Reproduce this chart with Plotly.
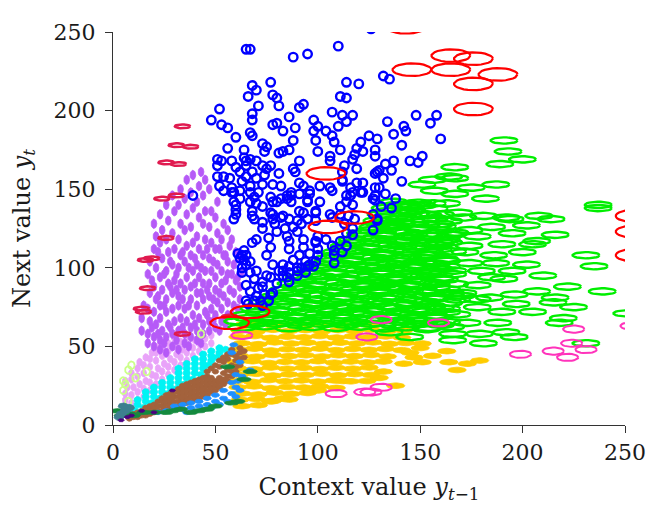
import numpy as np
import plotly.graph_objects as go

# cluster centres: (context value y_{t-1}, next value y_t)

blue_pts = [
    (65, 239), (67, 239), (88, 234), (95, 236), (110, 241), (126, 252),
    (68, 216), (70, 213), (66, 209), (77, 218), (78, 210), (80, 208), (71, 203), (81, 203), (91, 202),
    (93, 204), (114, 218), (120, 217), (111, 209), (114, 208),
    (52, 201), (48, 194), (68, 198), (68, 194), (86, 196), (107, 199), (112, 197), (117, 197), (114, 193), (98, 194),
    (53, 191), (56, 189), (78, 191), (80, 192), (83, 187), (89, 189), (98, 187), (100, 190), (104, 187), (110, 190),
    (107, 184), (60, 183), (67, 186), (68, 184), (88, 181), (99, 181), (108, 180), (125, 184), (121, 180), (129, 182),
    (56, 176), (64, 175), (73, 179), (75, 177), (74, 174), (81, 173), (83, 174), (86, 175), (100, 174), (111, 175),
    (119, 176), (122, 174), (128, 175), (118, 172), (117, 169), (113, 165), (106, 171), (106, 168),
    (51, 169), (53, 168), (51, 165), (58, 168), (64, 170), (65, 168), (67, 169), (70, 168), (60, 164), (65, 165),
    (73, 165), (77, 165), (91, 168), (88, 163), (89, 161), (62, 161), (68, 161), (75, 163), (81, 160), (112, 161),
    (119, 163), (129, 161), (51, 158), (54, 158), (57, 157), (65, 158), (70, 157), (74, 159),
    (52, 152), (58, 151), (63, 155), (67, 152), (73, 153), (78, 153), (82, 152), (91, 154), (93, 152), (101, 152),
    (106, 151), (112, 156), (116, 151), (119, 154), (128, 151), (121, 148), (128, 146),
    (39, 146), (54, 149), (59, 148), (67, 148), (71, 148), (77, 145), (85, 146), (87, 146), (96, 147), (101, 142),
    (107, 149), (111, 139), (114, 142), (116, 146), (60, 140), (67, 142), (70, 141), (73, 139), (80, 142), (87, 142),
    (93, 135), (83, 133), (78, 134), (68, 133), (106, 134), (99, 135), (60, 134),
    (77, 135), (68, 136), (69, 131), (73, 129), (73, 125), (78, 131), (79, 128), (82, 132), (86, 131), (90, 130),
    (92, 128), (84, 125), (88, 126), (80, 123), (85, 120), (90, 123), (95, 131), (99, 130), (99, 136), (91, 136),
    (95, 142), (93, 118), (99, 117), (100, 112), (100, 108), (99, 104), (98, 101), (95, 101), (92, 100), (90, 98),
    (93, 113), (91, 108), (88, 105), (86, 101), (86, 97), (83, 95), (86, 112), (86, 117), (83, 102), (81, 98),
    (77, 94), (78, 102), (75, 108), (77, 113), (76, 119), (70, 118), (68, 116), (64, 111), (65, 108), (64, 105),
    (67, 104), (63, 100), (63, 97), (67, 97), (70, 98), (69, 93), (65, 89), (67, 85), (71, 87), (73, 91),
    (80, 90), (70, 82), (74, 83), (78, 84), (69, 79), (66, 77), (72, 79), (76, 79), (73, 76), (86, 91),
    (90, 95), (94, 97), (96, 102), (104, 118), (107, 114), (108, 111), (108, 108), (111, 117), (114, 122),
    (117, 125), (113, 128), (107, 132), (111, 134), (115, 133), (118, 131), (117, 140), (114, 146), (117, 148),
    (122, 148), (127, 144), (122, 154), (112, 155), (96, 149), (95, 143), (91, 147), (87, 148), (85, 144),
    (82, 144), (78, 142), (62, 106), (61, 109), (59, 131), (60, 137), (62, 144), (58, 148), (59, 142), (62, 149),
    (69, 145), (112, 110), (108, 103), (114, 114), (117, 121), (65, 79), (65, 102), (63, 108), (73, 88), (75, 95),
    (77, 83), (85, 94), (83, 98), (90, 100), (94, 104), (96, 109), (99, 116), (100, 120),
    (132, 222), (135, 220), (148, 197), (158, 197), (155, 192), (134, 193), (142, 190), (143, 187), (137, 185),
    (141, 178), (160, 182), (128, 171), (133, 166), (137, 168), (136, 162), (145, 168), (149, 167), (151, 171),
    (130, 162), (128, 160), (132, 157), (141, 155), (130, 151), (133, 147), (138, 144), (128, 143), (131, 139),
    (136, 138), (127, 134), (129, 131), (127, 124), (129, 130),
]

green_pts = [
    # dense part
    (63, 62), (74, 62.8), (86, 61.6), (97, 62.4), (109, 61.8), (120, 62.6), (132, 61.4), (143, 62.2), (154, 61.8), (165, 62.5),
    (61, 66), (72, 65.4), (84, 66.6), (95, 65.8), (107, 66.4), (118, 65.6), (130, 66.8), (141, 65.8), (152, 66.2), (163, 65.6),
    (65, 70), (77, 70.6), (88, 69.4), (100, 70.4), (111, 69.8), (123, 70.6), (134, 69.6), (146, 70.2), (157, 69.6), (168, 70.4),
    (69, 74), (80, 73.4), (92, 74.6), (103, 73.8), (115, 74.4), (126, 73.6), (138, 74.4), (149, 73.8), (160, 74.2),
    (73, 78), (84, 78.6), (96, 77.4), (107, 78.2), (119, 77.8), (130, 78.6), (142, 77.6), (153, 78.4), (164, 77.8),
    (79, 82), (90, 81.4), (102, 82.6), (113, 81.6), (125, 82.4), (136, 81.8), (148, 82.6), (159, 81.6), (170, 82.2),
    (83, 86), (94, 86.6), (106, 85.4), (117, 86.2), (129, 85.8), (140, 86.6), (152, 85.6), (163, 86.4),
    (87, 90), (98, 89.4), (110, 90.6), (121, 89.8), (133, 90.4), (144, 89.6), (156, 90.4), (167, 89.8),
    (91, 94), (102, 94.6), (114, 93.4), (125, 94.2), (137, 93.8), (148, 94.6), (160, 93.6),
    (97, 98), (108, 97.4), (120, 98.6), (131, 97.8), (143, 98.4), (154, 97.6), (166, 98.2),
    (101, 102), (112, 102.6), (124, 101.4), (135, 102.2), (147, 101.8), (158, 102.6),
    (105, 106), (116, 105.4), (128, 106.6), (139, 105.8), (151, 106.4), (162, 105.6),
    (109, 110), (120, 110.6), (132, 109.4), (143, 110.2), (155, 109.8), (166, 110.4),
    (113, 114), (124, 113.4), (136, 114.6), (147, 113.8), (159, 114.4),
    (117, 118), (128, 118.6), (140, 117.4), (151, 118.2), (163, 117.8),
    (121, 122), (132, 121.4), (144, 122.6), (155, 121.8), (167, 122.4),
    (127, 126), (138, 126.6), (150, 125.4), (161, 126.2),
    (129, 130), (140, 129.4), (152, 130.6), (164, 129.8),
    (131, 134), (142, 134.6), (154, 133.4), (133, 138), (145, 138.6), (157, 137.6), (137, 142), (149, 141.4),
    # dense part, in-between rows
    (68, 64), (80, 64.4), (91, 63.6), (103, 64.2), (114, 63.8), (126, 64.4), (137, 63.6), (149, 64.2), (160, 63.8),
    (66, 68), (78, 67.6), (90, 68.4), (101, 67.8), (113, 68.2), (124, 67.6), (136, 68.4), (147, 67.8), (158, 68.2),
    (71, 72), (83, 72.4), (94, 71.6), (106, 72.2), (117, 71.8), (129, 72.4), (140, 71.6), (152, 72.2), (163, 71.8),
    (75, 76), (87, 75.6), (98, 76.4), (110, 75.8), (121, 76.2), (133, 75.6), (144, 76.4), (156, 75.8),
    (77, 80), (88, 80.4), (100, 79.6), (111, 80.2), (123, 79.8), (134, 80.4), (146, 79.6), (157, 80.2), (168, 79.8),
    (85, 84), (96, 83.6), (108, 84.4), (119, 83.8), (131, 84.2), (142, 83.6), (154, 84.4), (165, 83.8),
    (89, 88), (100, 88.4), (112, 87.6), (123, 88.2), (135, 87.8), (146, 88.4), (158, 87.6),
    (93, 92), (104, 91.6), (116, 92.4), (127, 91.8), (139, 92.2), (150, 91.6), (162, 92.4),
    (96, 96), (108, 96.4), (120, 95.6), (131, 96.2), (143, 95.8), (154, 96.4),
    (101, 100), (113, 99.6), (124, 100.4), (136, 99.8), (147, 100.2), (159, 99.6),
    (105, 104), (117, 104.4), (128, 103.6), (140, 104.2), (151, 103.8), (163, 104.4),
    (109, 108), (121, 107.6), (132, 108.4), (144, 107.8), (155, 108.2),
    (113, 112), (125, 112.4), (136, 111.6), (148, 112.2), (159, 111.8),
    (117, 116), (129, 115.6), (140, 116.4), (152, 115.8), (164, 116.2),
    (121, 120), (133, 120.4), (144, 119.6), (156, 120.2),
    (126, 124), (138, 123.6), (149, 124.4), (160, 123.8),
    (130, 128), (141, 128.4), (153, 127.6), (133, 132), (145, 132.4), (157, 131.6), (134, 136), (146, 136.4),
    (139, 140), (151, 139.6),
    # scattered part
    (191, 181), (193, 174), (200, 169), (189, 166), (167, 164), (187, 153), (175, 151), (182, 144), (164, 158),
    (156, 156), (167, 157), (151, 153), (157, 149), (167, 147), (237, 140), (237, 138), (146, 140), (156, 141),
    (163, 141), (145, 136), (148, 134), (160, 134), (169, 135), (171, 132), (181, 133), (192, 132), (208, 133),
    (214, 131), (140, 131), (202, 127), (194, 131), (160, 128), (174, 124), (165, 121), (147, 121), (135, 126),
    (216, 121), (207, 117), (205, 115), (190, 115), (174, 114), (160, 116), (142, 114), (132, 118), (172, 110),
    (153, 108), (186, 108), (200, 110), (231, 108), (235, 101), (202, 102), (187, 103), (174, 103), (163, 101),
    (150, 101), (135, 103), (129, 100), (166, 96), (152, 95), (185, 94), (191, 93), (140, 93), (158, 90),
    (178, 89), (132, 89), (207, 85), (196, 83), (216, 81), (239, 85), (145, 85), (171, 84), (184, 81), (158, 81),
    (132, 81), (215, 78), (197, 77), (178, 75), (163, 74), (147, 73), (135, 75), (251, 71), (220, 68), (218, 65),
    (188, 65), (173, 65), (147, 64), (192, 59), (196, 56), (166, 58), (179, 58), (181, 52), (166, 54), (231, 52),
    (145, 56), (135, 59), (153, 61), (178, 120), (185, 126), (195, 122), (180, 98), (195, 98), (210, 95),
    (222, 88), (178, 80), (205, 72), (190, 72), (225, 75),
]

red_pts = [
    (146, 226), (165, 235), (176, 233), (165, 226), (188, 223), (176, 217), (176, 201), (143, 253),
    (255, 133), (255, 123), (255, 108), (104, 160), (118, 132), (105, 126), (67, 72), (57, 65),
]

crimson_pts = [
    (34, 190), (31, 178), (38, 177), (26, 167), (32, 166), (31, 146), (24, 144), (26, 119), (19, 106),
    (16, 105), (17, 87), (14, 74), (15, 72), (57, 69), (34, 58),
]

magenta_pts = [
    (131, 67), (159, 65), (225, 61), (224, 52), (231, 48), (215, 47), (222, 43), (199, 45), (253, 63),
    (131, 24), (126, 21), (109, 20), (123, 21), (63, 57), (124, 56),
]

gold_pts = [
    (64, 64), (72, 64.6), (80, 63.6), (88, 64.4), (96, 63.8), (104, 64.6), (112, 63.6), (120, 64.2), (128, 63.8),
    (62, 60), (70, 59.4), (78, 60.6), (86, 59.8), (94, 60.4), (102, 59.6), (110, 60.4), (118, 59.8), (126, 60.6), (134, 59.6), (142, 60.2),
    (61, 56), (69, 56.6), (77, 55.4), (85, 56.2), (93, 55.8), (101, 56.6), (109, 55.6), (117, 56.4), (125, 55.8), (133, 56.4), (141, 55.6),
    (63, 52), (71, 51.4), (79, 52.6), (87, 51.8), (95, 52.4), (103, 51.6), (111, 52.4), (119, 51.8), (127, 52.6), (135, 51.6), (143, 52.2), (151, 51.8),
    (61, 48), (69, 48.6), (77, 47.4), (85, 48.2), (93, 47.8), (101, 48.6), (109, 47.6), (117, 48.4), (125, 47.8), (133, 48.4), (141, 47.6),
    (62, 44), (70, 43.4), (78, 44.6), (86, 43.8), (94, 44.4), (102, 43.6), (110, 44.4), (118, 43.8), (126, 44.6), (134, 43.6),
    (60, 40), (68, 40.6), (76, 39.4), (84, 40.2), (92, 39.8), (100, 40.6), (108, 39.6), (116, 40.4), (124, 39.8), (132, 40.4),
    (61, 36), (69, 35.4), (77, 36.6), (85, 35.8), (93, 36.4), (101, 35.6), (109, 36.4), (117, 35.8), (125, 36.6),
    (62, 32), (70, 32.6), (78, 31.4), (86, 32.2), (94, 31.8), (102, 32.6), (110, 31.6), (118, 32.4), (126, 31.8),
    (60, 28), (68, 27.4), (76, 28.6), (84, 27.8), (92, 28.4), (100, 27.6), (108, 28.4), (116, 27.8),
    (61, 24), (69, 24.6), (77, 23.4), (85, 24.2), (93, 23.8), (101, 24.6), (109, 23.6),
    (63, 20), (71, 19.4), (79, 20.6), (87, 19.8), (95, 20.4), (62, 16), (70, 16.6), (78, 15.4), (86, 16.2),
    (63, 12), (71, 12.6),
    (142, 39), (151, 40), (156, 44), (163, 47), (164, 40), (173, 39), (179, 41), (168, 35), (138, 25), (150, 49),
    (145, 46), (147, 43), (100, 22), (112, 28), (124, 28), (83, 17), (77, 15), (132, 34), (130, 30),
]

purple_pts = [
    (14, 60), (14, 68), (15, 76),
    (17, 52), (17, 58), (18, 66), (17, 74), (18, 84), (17, 96), (18, 104),
    (20, 50), (20, 56), (21, 64), (20, 72), (21, 80), (20, 88), (21, 100), (20, 112), (21, 120), (20, 128),
    (23, 48), (23, 54), (24, 60), (23, 68), (23, 76), (24, 86), (23, 94), (24, 106), (23, 116), (24, 124), (23, 134),
    (26, 46), (26, 56), (27, 64), (26, 72), (26, 80), (27, 90), (26, 98), (27, 110), (26, 118), (27, 130), (26, 140),
    (29, 50), (29, 58), (30, 66), (29, 74), (29, 84), (30, 92), (29, 102), (30, 112), (29, 122), (30, 136), (29, 146),
    (32, 48), (32, 60), (33, 68), (32, 76), (32, 82), (33, 90), (32, 100), (33, 108), (32, 118), (33, 128), (32, 140), (33, 150),
    (35, 52), (35, 58), (36, 66), (35, 74), (35, 86), (36, 94), (35, 104), (36, 114), (35, 124), (36, 134), (35, 144), (36, 156),
    (38, 56), (38, 62), (39, 70), (38, 80), (38, 88), (39, 98), (38, 108), (39, 116), (38, 126), (39, 138), (38, 148), (39, 159),
    (41, 54), (41, 60), (42, 68), (41, 76), (41, 84), (42, 94), (41, 102), (42, 112), (41, 120), (42, 132), (41, 142), (42, 152), (43, 161),
    (44, 58), (44, 64), (45, 72), (44, 80), (44, 90), (45, 98), (44, 108), (45, 118), (44, 128), (45, 136), (44, 146), (45, 156),
    (47, 60), (47, 66), (48, 74), (47, 82), (47, 90), (48, 98), (47, 106), (48, 116), (47, 126), (48, 136), (47, 150),
    (50, 62), (50, 70), (51, 78), (50, 86), (50, 94), (51, 102), (50, 112), (51, 122), (50, 132), (51, 142),
    (53, 66), (53, 74), (54, 82), (53, 90), (53, 98), (54, 108), (53, 118), (54, 128),
    (56, 70), (56, 78), (57, 86), (56, 96), (56, 104), (57, 114), (56, 124),
    (59, 76), (59, 84), (60, 92), (59, 102), (60, 110), (62, 80), (62, 88), (63, 98), (62, 106),
    (19, 62), (22, 58), (25, 52), (28, 62), (31, 54), (34, 62), (37, 50), (40, 64), (43, 52), (46, 70),
    (49, 66), (52, 60), (55, 64), (58, 70), (61, 74), (19, 92), (22, 82), (25, 76), (28, 88), (31, 86),
    (34, 80), (37, 76), (40, 90), (43, 84), (46, 86), (49, 80), (52, 84), (55, 92), (58, 96), (61, 94),
    (22, 110), (25, 96), (28, 104), (31, 96), (34, 110), (37, 100), (40, 106), (43, 100), (46, 112), (49, 104),
    (52, 112), (55, 108), (58, 118),
]

plum_pts = [
    (6, 12), (6, 16), (6, 20), (7, 24), (6, 28), (9, 14), (9, 19), (10, 24), (9, 29), (9, 33),
    (12, 16), (12, 21), (13, 26), (12, 31), (12, 36), (13, 40), (15, 18), (15, 23), (16, 28), (15, 33),
    (15, 38), (16, 43), (18, 22), (18, 27), (19, 32), (18, 37), (18, 42), (19, 46), (21, 26), (21, 31),
    (22, 36), (21, 41), (21, 46), (22, 50), (24, 29), (24, 34), (25, 39), (24, 44), (24, 49), (27, 32),
    (27, 37), (28, 42), (27, 47), (27, 52), (30, 35), (30, 40), (31, 45), (30, 50), (30, 55), (33, 38),
    (33, 43), (34, 48), (33, 53), (36, 41), (36, 46), (37, 51), (36, 56), (39, 44), (39, 49), (40, 54),
    (42, 47), (42, 52), (43, 57), (45, 50), (45, 55), (48, 52), (48, 57),
]

cyan_pts = [
    (8, 8), (8, 11), (11, 9), (12, 13), (12, 16), (15, 11), (16, 15), (16, 18), (16, 21), (19, 14),
    (20, 18), (20, 21), (20, 24), (23, 17), (24, 21), (24, 24), (24, 27), (27, 20), (28, 24), (28, 27),
    (28, 30), (31, 23), (32, 27), (32, 30), (32, 33), (32, 36), (35, 26), (36, 30), (36, 33), (36, 36),
    (36, 39), (39, 29), (40, 33), (40, 36), (40, 39), (40, 42), (43, 32), (44, 36), (44, 39), (44, 42),
    (44, 45), (47, 38), (48, 41), (48, 44), (48, 47), (51, 43), (52, 46), (52, 49), (55, 48),
]

brown_pts = [
    (8, 4), (8, 6), (10, 5), (10, 7), (12, 5), (12, 8), (14, 6), (14, 9), (16, 6), (16, 9), (16, 11),
    (18, 7), (18, 10), (18, 12), (20, 8), (20, 11), (20, 13), (22, 9), (22, 12), (22, 15),
    (24, 9), (24, 12), (24, 15), (24, 17), (26, 10), (26, 13), (26, 16), (26, 19),
    (28, 11), (28, 14), (28, 17), (28, 20), (30, 12), (30, 15), (30, 18), (30, 21),
    (32, 12), (32, 15), (32, 18), (32, 21), (32, 23), (34, 13), (34, 16), (34, 19), (34, 22), (34, 25),
    (36, 14), (36, 17), (36, 20), (36, 23), (36, 26), (38, 15), (38, 18), (38, 21), (38, 24), (38, 27),
    (40, 16), (40, 19), (40, 22), (40, 25), (40, 28), (42, 17), (42, 20), (42, 23), (42, 26), (42, 29),
    (44, 18), (44, 21), (44, 24), (44, 27), (44, 30), (46, 19), (46, 22), (46, 25), (46, 28), (46, 31), (46, 34),
    (48, 21), (48, 24), (48, 27), (48, 30), (48, 36), (50, 22), (50, 25), (50, 28), (50, 34), (50, 38),
    (52, 24), (52, 27), (52, 30), (52, 37), (52, 41), (54, 26), (54, 29), (54, 33), (54, 40), (54, 43),
    (56, 28), (56, 31), (56, 35), (56, 42), (56, 45), (58, 31), (58, 34), (58, 38), (58, 45), (58, 48),
    (60, 34), (60, 37), (60, 41), (60, 44), (62, 38), (62, 42), (62, 46), (62, 49), (64, 43), (64, 47),
]

dodger_pts = [
    (22, 8), (26, 9), (30, 10), (34, 10), (38, 11), (42, 12), (46, 13), (50, 15), (54, 17), (58, 20),
    (60, 24), (61, 28), (58, 27), (54, 22), (50, 19), (46, 17), (42, 15), (38, 14), (34, 13), (30, 12),
    (48, 11), (52, 13), (56, 15), (60, 18), (62, 22), (63, 31), (60, 32), (58, 46), (59, 51), (67, 35),
    (62, 40), (44, 10), (40, 9), (36, 8),
]

dkgreen_pts = [
    (2, 9), (4, 6), (8, 7), (10, 6), (15, 8), (20, 8), (29, 9), (33, 10), (42, 9), (46, 10),
    (50, 12), (58, 14), (61, 15), (64, 29), (67, 34), (56, 37), (26, 8), (38, 8),
]

teal_pts = [(4, 7), (6, 9), (8, 11), (5, 12), (3, 5)]
indigo_pts = [(4, 3), (7, 5), (9, 6), (20, 8), (29, 22), (14, 9)]
lime_pts = [(43, 58), (9, 38), (7.5, 35), (16.5, 34), (6, 26), (5, 22), (7.5, 15), (5, 28), (11, 30)]


def ellipse_path(pts, rx, ry, n=28):
    t = np.linspace(0, 2 * np.pi, n)
    xs, ys = [], []
    for cx, cy in pts:
        xs += list(cx + rx * np.cos(t)) + [None]
        ys += list(cy + ry * np.sin(t)) + [None]
    return xs, ys


def add_ellipses(fig, pts, rx, ry, color, width=2.0, filled=False):
    xs, ys = ellipse_path(pts, rx, ry)
    fig.add_trace(go.Scatter(
        x=xs, y=ys, mode='lines',
        line=dict(color=color, width=width),
        fill='toself' if filled else 'none',
        fillcolor=color,
        hoverinfo='skip', showlegend=False,
    ))


fig = go.Figure()

add_ellipses(fig, plum_pts, 1.4, 2.4, '#e9a3f9', width=0.8, filled=True)
add_ellipses(fig, purple_pts, 1.4, 3.0, '#b65af7', width=0.8, filled=True)
add_ellipses(fig, lime_pts, 1.6, 2.4, '#ccff8a', width=1.8)
add_ellipses(fig, gold_pts, 4.5, 1.8, '#ffcc00', width=0.8, filled=True)
add_ellipses(fig, cyan_pts, 1.8, 2.1, '#00f4f4', width=0.8, filled=True)
add_ellipses(fig, brown_pts, 1.6, 1.6, '#a3623c', width=0.8, filled=True)
add_ellipses(fig, dodger_pts, 2.0, 1.4, '#1e8fff', width=0.8, filled=True)
add_ellipses(fig, dkgreen_pts, 3.5, 1.4, '#148a3e', width=0.8, filled=True)
add_ellipses(fig, teal_pts, 2.5, 2.0, '#3d7f8f', width=0.8, filled=True)
add_ellipses(fig, indigo_pts, 1.5, 1.0, '#4b0082', width=0.8, filled=True)
add_ellipses(fig, crimson_pts, 3.8, 1.2, '#e01a4f', width=2.5)
add_ellipses(fig, green_pts, 6.6, 2.0, '#00ee00', width=2.4)

fig.add_trace(go.Scatter(
    x=[p[0] for p in blue_pts], y=[p[1] for p in blue_pts], mode='markers',
    marker=dict(symbol='circle-open', size=8.5, color='#0000ff', line=dict(width=2.4, color='#0000ff')),
    hoverinfo='skip', showlegend=False,
))

add_ellipses(fig, magenta_pts, 5.2, 2.3, '#ff33bb', width=2.0)
add_ellipses(fig, red_pts, 9.5, 4.0, '#ff0000', width=2.2)

axis_font = dict(family='DejaVu Serif', size=22, color='#1a1a1a')
title_font = dict(family='DejaVu Serif', size=24, color='#1a1a1a')

fig.update_xaxes(
    range=[0, 250], tickvals=[0, 50, 100, 150, 200, 250],
    showline=True, linecolor='#333333', linewidth=1.3,
    ticks='outside', ticklen=7, tickcolor='#333333', tickwidth=1.3,
    showgrid=False, zeroline=False, tickfont=axis_font,
    title=dict(text='Context value <i>y</i><sub><i>t</i>\u22121</sub>', font=title_font, standoff=14),
)
fig.update_yaxes(
    range=[0, 250], tickvals=[0, 50, 100, 150, 200, 250],
    showline=True, linecolor='#333333', linewidth=1.3,
    ticks='outside', ticklen=7, tickcolor='#333333', tickwidth=1.3,
    showgrid=False, zeroline=False, tickfont=axis_font, ticklabelstandoff=5,
    title=dict(text='Next value <i>y</i><sub><i>t</i></sub>', font=title_font, standoff=16),
)
fig.update_layout(
    width=664, height=506,
    margin=dict(l=105, r=47, t=19, b=89),
    plot_bgcolor='white', paper_bgcolor='white',
)

fig.write_html("out.html")
